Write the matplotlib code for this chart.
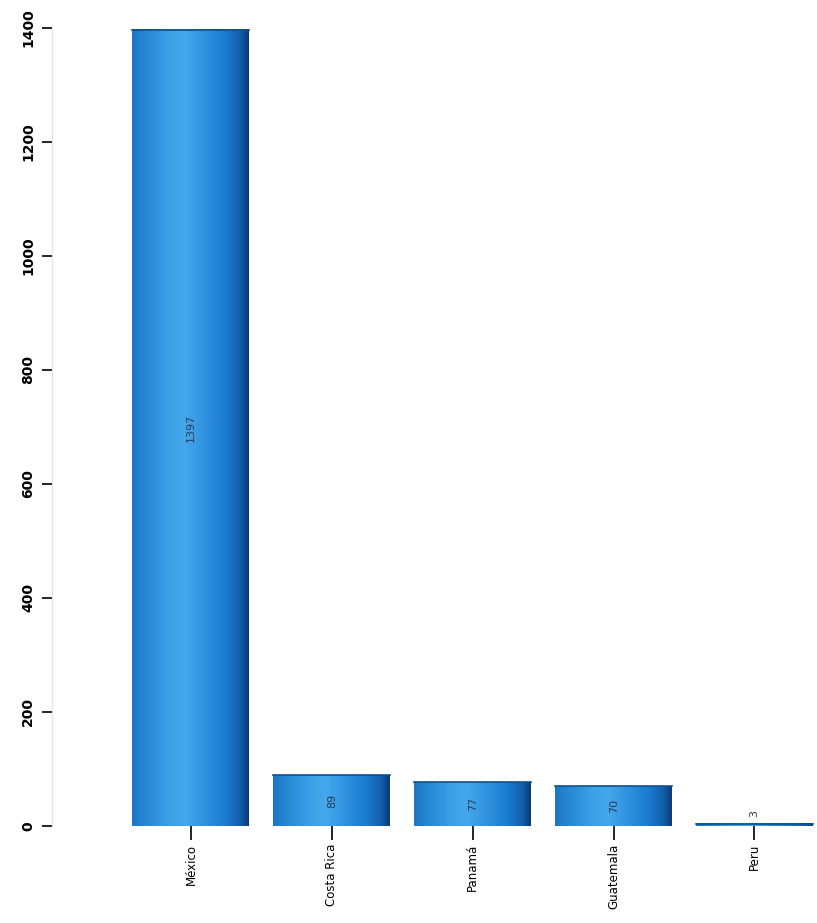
import numpy as np
import matplotlib.pyplot as plt
from matplotlib.colors import LinearSegmentedColormap

countries = ['México', 'Costa Rica', 'Panamá', 'Guatemala', 'Peru']
counts = [1397, 89, 77, 70, 3]
yticks = [0, 200, 400, 600, 800, 1000, 1200, 1400]

W, H = 817, 923
fig = plt.figure(figsize=(W / 100, H / 100), dpi=100)
# axes: left edge at the y tick marks, bottom at y=0
ax = fig.add_axes([52 / W, 1 - 826 / H, (817 - 52) / W, (826 - 28) / H])

x = np.arange(len(countries))
width = 0.83
ax.set_xlim(-(192 - 52) / 142, 4 + (817 - 754) / 142)
ax.set_ylim(0, 1400)

# cylinder-like shading across each bar
cmap = LinearSegmentedColormap.from_list('bar', [
    (0.0, '#1b77c6'), (0.3, '#3a9fe6'), (0.45, '#45a8ec'),
    (0.8, '#1a7bd0'), (0.93, '#125ea8'), (1.0, '#0a3a72')])
grad = np.linspace(0, 1, 256).reshape(1, -1)

bars = ax.bar(x, counts, width=width, color='none', edgecolor='none')
for b in bars:
    x0, y0 = b.get_x(), b.get_y()
    w, h = b.get_width(), max(b.get_height(), 4)
    ax.imshow(grad, cmap=cmap, aspect='auto', extent=[x0, x0 + w, y0, y0 + h],
              zorder=2, clip_on=False)
    ax.plot([x0, x0 + w], [y0 + h, y0 + h], color='#0f4f8f', lw=1.2, zorder=3,
            clip_on=False)

for xi, v in zip(x, counts):
    if v > 20:
        ax.text(xi, v / 2, str(v), rotation=90, ha='center', va='center',
                fontsize=8, color='#2a3d55', zorder=4)
    else:
        ax.text(xi, v + 12, str(v), rotation=90, ha='center', va='bottom',
                fontsize=8, color='#333333', zorder=4)

ax.set_xticks(x)
ax.set_xticklabels(countries, rotation=90, fontsize=8.5)
ax.set_yticks(yticks)
ax.set_yticklabels([str(t) for t in yticks], rotation=90, va='center',
                   fontsize=10, fontweight='bold')
ax.tick_params(axis='x', length=10, width=1.2, pad=3)
ax.tick_params(axis='y', length=7, width=1.2, pad=5)

for s in ['top', 'right', 'bottom']:
    ax.spines[s].set_visible(False)
ax.spines['left'].set_color('#e4e4e4')
ax.spines['left'].set_linewidth(0.8)

fig.savefig('out.png', dpi=100)
